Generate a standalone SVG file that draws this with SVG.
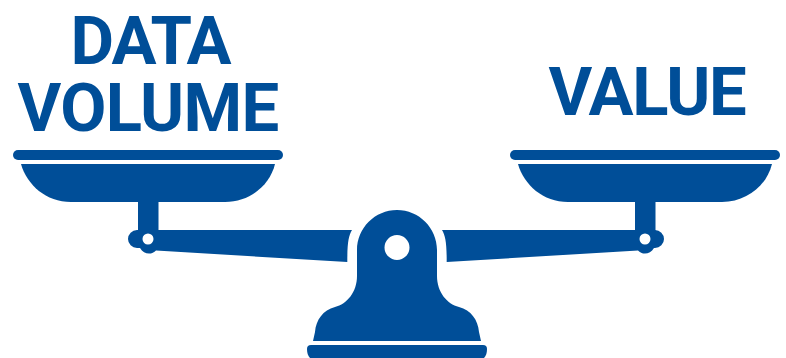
<svg xmlns="http://www.w3.org/2000/svg" width="786" height="358" viewBox="0 0 786 358">
<defs>
<style>
.s{fill:#004e98}
.t{fill:#004e98;font-family:Roboto,"Liberation Sans",sans-serif;font-weight:700;font-size:67px;text-anchor:middle}
</style>
<g id="pan">
<rect class="s" x="13" y="150" width="270" height="10" rx="5"/>
<path class="s" d="M21 164H275C270 185 250 202 225 202H71C46 202 27 185 21 164Z"/>
</g>
</defs>
<rect width="786" height="358" fill="#fff"/>
<g id="left-label"><text class="t" x="150" y="64.300" letter-spacing="-2">DATA</text><text class="t" x="148" y="131" letter-spacing="-0.700">VOLUME</text></g>
<g id="right-label"><text class="t" x="647" y="114.500" letter-spacing="-1.300">VALUE</text></g>
<g id="left-pan"><use href="#pan"/><rect class="s" x="138" y="200" width="20.500" height="32"/></g>
<g id="right-pan"><use href="#pan" x="497"/><rect class="s" x="635" y="200" width="20.500" height="32"/></g>
<g id="beam">
<path class="s" fill-rule="evenodd" d="M137 230H352C348.500 236 347.300 243 347.300 262L156 250.500C152 255 144 255 140 248H137A9 9 0 0 1 137 230ZM148 233.500A5.500 5.500 0 1 0 148 244.500A5.500 5.500 0 1 0 148 233.500Z"/>
<path class="s" fill-rule="evenodd" d="M655 230H442C445.500 236 446.700 243 446.700 262L638 250.500C642 255 650 255 654 248H655A9 9 0 0 0 655 230ZM645 233.500A5.500 5.500 0 1 1 645 244.500A5.500 5.500 0 1 1 645 233.500Z"/>
</g>
<g id="stand">
<path class="s" fill-rule="evenodd" d="M357 250C357 228 375 210 397 210C419 210 437 228 437 250V276C437 292 447 304 459 307C471 310 478 320 479 332L481 341H313L315 332C316 320 323 310 335 307C347 304 357 292 357 276ZM397 235A12.500 12.500 0 1 0 397 260A12.500 12.500 0 1 0 397 235Z"/>
<path class="s" d="M311 345H483A4 4 0 0 1 487 349C487 353 486 356 484 358H310C308 356 307 353 307 349A4 4 0 0 1 311 345Z"/>
</g>
</svg>
